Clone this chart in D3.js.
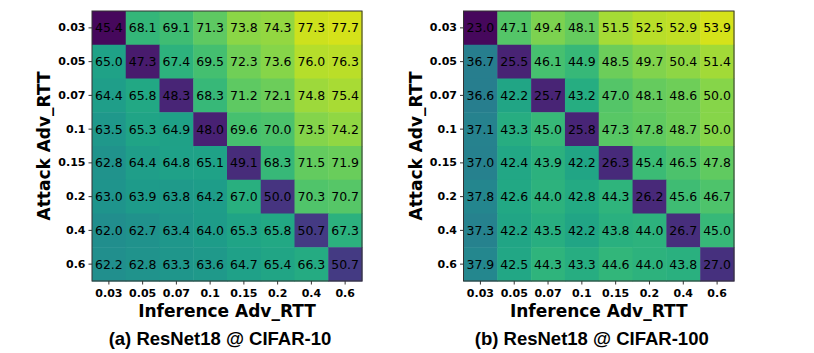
<!DOCTYPE html>
<html>
<head>
<meta charset="utf-8">
<script src="https://cdn.jsdelivr.net/npm/d3@7"></script>
<style>
  html, body { margin: 0; padding: 0; background: #fff; }
  svg { display: block; }
</style>
</head>
<body>
<svg id="chart" width="814" height="353"></svg>
<script>
const ticks = ["0.03", "0.05", "0.07", "0.1", "0.15", "0.2", "0.4", "0.6"];

const cifar10 = [
  [45.4, 68.1, 69.1, 71.3, 73.8, 74.3, 77.3, 77.7],
  [65.0, 47.3, 67.4, 69.5, 72.3, 73.6, 76.0, 76.3],
  [64.4, 65.8, 48.3, 68.3, 71.2, 72.1, 74.8, 75.4],
  [63.5, 65.3, 64.9, 48.0, 69.6, 70.0, 73.5, 74.2],
  [62.8, 64.4, 64.8, 65.1, 49.1, 68.3, 71.5, 71.9],
  [63.0, 63.9, 63.8, 64.2, 67.0, 50.0, 70.3, 70.7],
  [62.0, 62.7, 63.4, 64.0, 65.3, 65.8, 50.7, 67.3],
  [62.2, 62.8, 63.3, 63.6, 64.7, 65.4, 66.3, 50.7]
];

const cifar100 = [
  [23.0, 47.1, 49.4, 48.1, 51.5, 52.5, 52.9, 53.9],
  [36.7, 25.5, 46.1, 44.9, 48.5, 49.7, 50.4, 51.4],
  [36.6, 42.2, 25.7, 43.2, 47.0, 48.1, 48.6, 50.0],
  [37.1, 43.3, 45.0, 25.8, 47.3, 47.8, 48.7, 50.0],
  [37.0, 42.4, 43.9, 42.2, 26.3, 45.4, 46.5, 47.8],
  [37.8, 42.6, 44.0, 42.8, 44.3, 26.2, 45.6, 46.7],
  [37.3, 42.2, 43.5, 42.2, 43.8, 44.0, 26.7, 45.0],
  [37.9, 42.5, 44.3, 43.3, 44.6, 44.0, 43.8, 27.0]
];

const titles = ["(a) ResNet18 @ CIFAR-10", "(b) ResNet18 @ CIFAR-100"];
const xLabel = "Inference Adv_RTT";
const yLabel = "Attack Adv_RTT";

const svg = d3.select("#chart");
const panels = [
  { data: cifar10, title: titles[0], x0: 92, width: 270 },
  { data: cifar100, title: titles[1], x0: 463.5, width: 270.5 }
];
const plotTop = 11, plotH = 270;

panels.forEach(p => {
  const g = svg.append("g");
  const x = d3.scaleBand().domain(ticks).range([p.x0, p.x0 + p.width]).padding(0);
  const y = d3.scaleBand().domain(ticks).range([plotTop, plotTop + plotH]).padding(0);
  const flat = p.data.flat();
  const norm = d3.scaleLinear().domain([d3.min(flat), d3.max(flat)]).range([0.02, 0.935]);
  const color = v => d3.interpolateViridis(norm(v));

  const cells = [];
  p.data.forEach((row, i) => row.forEach((v, j) => cells.push({ r: ticks[i], c: ticks[j], v })));

  g.selectAll("rect.cell").data(cells).join("rect")
    .attr("class", "cell")
    .attr("x", d => x(d.c))
    .attr("y", d => y(d.r))
    .attr("width", x.bandwidth() + 0.5)
    .attr("height", y.bandwidth() + 0.5)
    .attr("fill", d => color(d.v));

  g.selectAll("text.val").data(cells).join("text")
    .attr("class", "val")
    .attr("x", d => x(d.c) + x.bandwidth() / 2)
    .attr("y", d => y(d.r) + y.bandwidth() / 2)
    .attr("text-anchor", "middle")
    .attr("dominant-baseline", "central")
    .attr("font-family", "DejaVu Sans")
    .attr("font-size", 12.5)
    .attr("fill", "#000")
    .text(d => d.v.toFixed(1));

  g.append("rect")
    .attr("x", p.x0).attr("y", plotTop)
    .attr("width", p.width).attr("height", plotH)
    .attr("fill", "none").attr("stroke", "#333").attr("stroke-width", 1);

  const xAxis = g.append("g").attr("transform", `translate(0,${plotTop + plotH})`)
    .call(d3.axisBottom(x).tickSize(3.5).tickPadding(5));
  const yAxis = g.append("g").attr("transform", `translate(${p.x0},0)`)
    .call(d3.axisLeft(y).tickSize(3.5).tickPadding(3));
  [xAxis, yAxis].forEach(a => {
    a.select(".domain").remove();
    a.selectAll("line").attr("stroke", "#333");
    a.selectAll("text")
      .attr("font-family", "DejaVu Sans")
      .attr("font-weight", "bold")
      .attr("font-size", 11)
      .attr("fill", "#000");
  });

  const cx = p.x0 + p.width / 2;
  g.append("text")
    .attr("x", cx).attr("y", 316.5)
    .attr("text-anchor", "middle")
    .attr("font-family", "DejaVu Sans").attr("font-weight", "bold").attr("font-size", 17)
    .text(xLabel);

  g.append("text")
    .attr("transform", `translate(${p.x0 - 42},${plotTop + plotH / 2}) rotate(-90)`)
    .attr("text-anchor", "middle")
    .attr("font-family", "DejaVu Sans").attr("font-weight", "bold").attr("font-size", 17)
    .text(yLabel);

  g.append("text")
    .attr("x", cx - 7).attr("y", 344.5)
    .attr("text-anchor", "middle")
    .attr("font-family", "Liberation Sans").attr("font-weight", "bold").attr("font-size", 18.5)
    .text(p.title);
});
</script>
</body>
</html>
